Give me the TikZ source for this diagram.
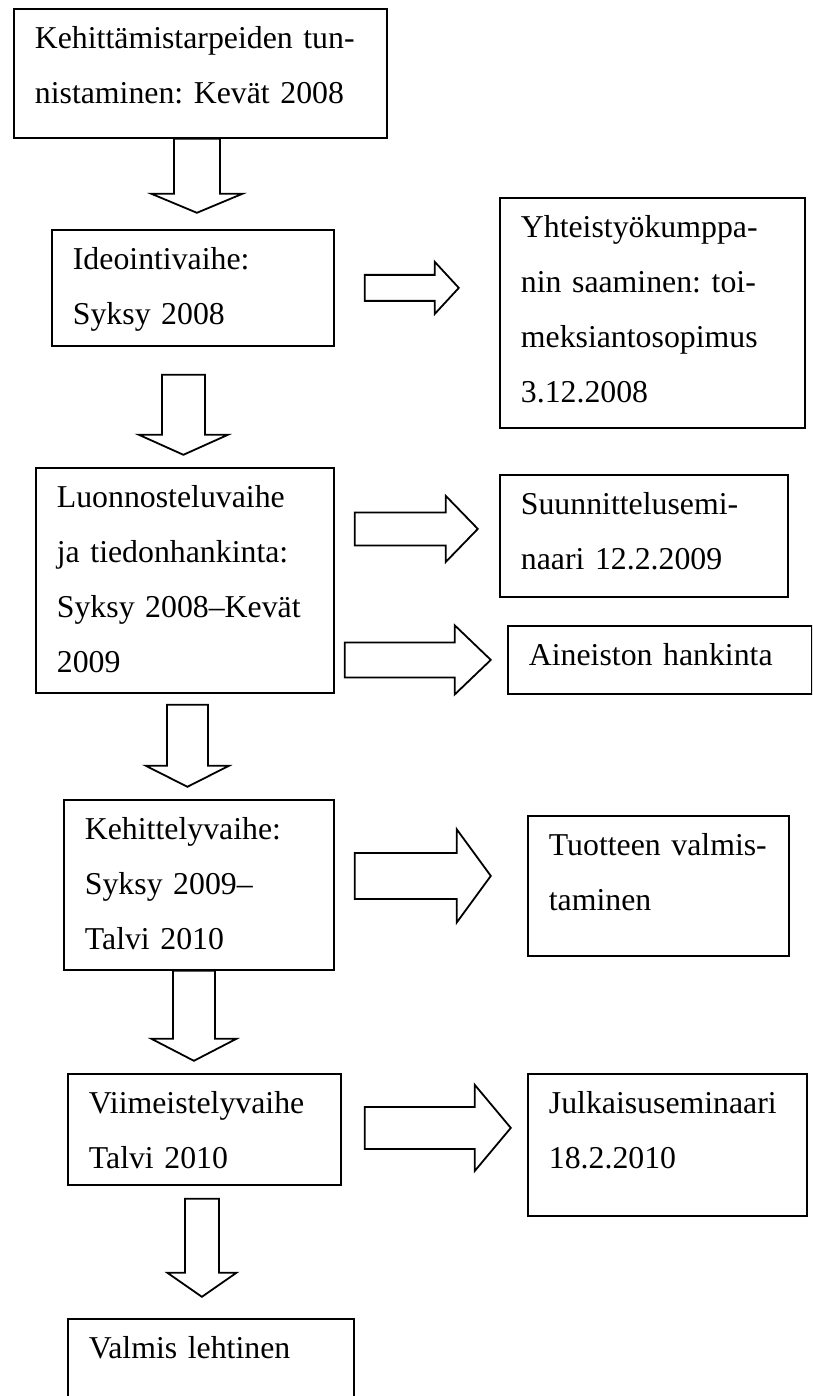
\documentclass[tikz,border=0pt]{standalone}
\usepackage{fontspec}
\setmainfont{Liberation Serif}
\usepackage{tikz}
\frenchspacing
\newcommand{\phasefont}{\fontsize{31.8}{55}\selectfont\frenchspacing}
\newcommand{\downblock}[5]{\draw[blockarrow] #1 ++(-#3,0) -- ++(0,{#2-#5}) -- ++({-(#4-#3)},0) -- ++(#4,#5) -- ++(#4,-#5) -- ++({-(#4-#3)},0) -- ++(0,{-(#2-#5)}) -- cycle;}
\newcommand{\rightblock}[5]{\draw[blockarrow] #1 ++(0,-#3) -- ++({#2-#5},0) -- ++(0,{-(#4-#3)}) -- ++(#5,#4) -- ++(-#5,#4) -- ++(0,{-(#4-#3)}) -- ++({-(#2-#5)},0) -- cycle;}
\tikzset{
  stagebox/.style={draw, line width=1.8pt, anchor=north west, align=left, inner xsep=21pt, inner ysep=0pt, text height=40pt, font=\phasefont},
  blockarrow/.style={line width=1.8pt}
}

\begin{document}
\begin{tikzpicture}[x=1pt,y=-1pt]
\fill[white] (0,0) rectangle (812,1396);
\clip (0,0) rectangle (812,1396);
\node[stagebox, text width=331pt, text depth=89pt]  (need)    at (13,8)     {Kehittämistarpeiden tun-\\nistaminen: Kevät 2008};
\node[stagebox, text width=240pt, text depth=76pt]  (idea)    at (51,229)   {Ideointivaihe:\\Syksy 2008};
\node[stagebox, text width=263pt, text depth=190pt] (partner) at (499,197)  {Yhteistyökumppa-\\nin saaminen: toi-\\meksiantosopimus\\3.12.2008};
\node[stagebox, text width=256pt, text depth=185pt] (sketch)  at (35,467)   {Luonnosteluvaihe\\ja tiedonhankinta:\\Syksy 2008–Kevät\\2009};
\node[stagebox, text width=246pt, text depth=82pt]  (plansem) at (499,474)  {Suunnittelusemi-\\naari 12.2.2009};
\node[stagebox, text width=262pt, text depth=28pt]  (material) at (507,625) {Aineiston hankinta};
\node[stagebox, text width=228pt, text depth=130pt] (develop) at (63,799)   {Kehittelyvaihe:\\Syksy 2009–\\Talvi 2010};
\node[stagebox, text width=219pt, text depth=100pt] (product) at (527,815)  {Tuotteen valmis-\\taminen};
\node[stagebox, text width=231pt, text depth=71pt]  (finish)  at (67,1073)  {Viimeistelyvaihe\\Talvi 2010};
\node[stagebox, text width=237pt, text depth=102pt] (pubsem)  at (527,1073) {Julkaisuseminaari\\18.2.2010};
\node[stagebox, text width=244pt, text depth=100pt] (ready)   at (67,1318)  {Valmis lehtinen};
\downblock{([xshift=-3.5pt]need.south)}{74}{23}{45.5}{19}
\downblock{([xshift=-9.5pt,yshift=-28pt]idea.south)}{80}{21.5}{44.5}{20}
\downblock{([xshift=2.5pt,yshift=-11pt]sketch.south)}{82}{20.5}{41.5}{21}
\downblock{([xshift=-5pt]develop.south)}{90}{21}{42.5}{22}
\downblock{([xshift=-2.5pt,yshift=-13pt]finish.south)}{98}{17}{34.5}{24}
\rightblock{([xshift=30pt]idea.east)}{94}{13}{26}{24}
\rightblock{([xshift=20pt,yshift=51.5pt]sketch.east)}{123}{16.5}{33}{32}
\rightblock{([xshift=10pt,yshift=-79.5pt]sketch.east)}{146}{17.5}{34.5}{36}
\rightblock{([xshift=20pt,yshift=9pt]develop.east)}{136}{23}{46.5}{34}
\rightblock{([xshift=23pt,yshift=1.5pt]finish.east)}{146}{21}{43}{36}
\end{tikzpicture}
\end{document}
